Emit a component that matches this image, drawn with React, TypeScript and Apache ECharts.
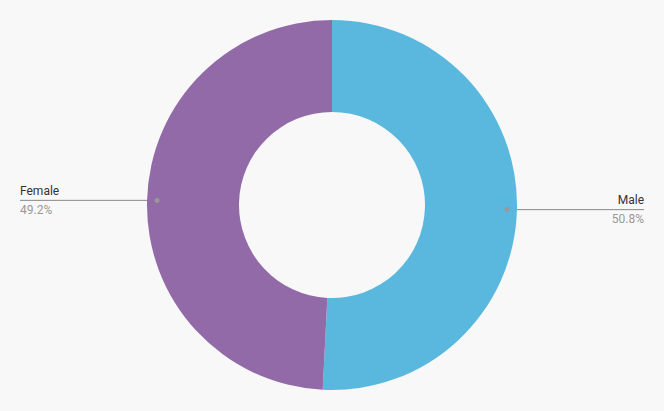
import React, { useEffect, useRef } from 'react';
import * as echarts from 'echarts';

const categories = ['Male', 'Female'];
const values = [50.8, 49.2];
const colors = ['#5ab8de', '#926aa7'];

export default function App() {
  const ref = useRef<HTMLDivElement>(null);
  useEffect(() => {
    document.body.style.margin = '0';
    const chart = echarts.init(ref.current!, null, { renderer: 'svg' });
    const W = 664;
    const cx = 332, cy = 205, rOuter = 185, rInner = 93, rLabel = 175;
    const total = values.reduce((a, b) => a + b, 0);
    let acc = 0;
    const dots = values.map((v) => {
      const mid = ((acc + v / 2) / total) * 2 * Math.PI;
      acc += v;
      return {
        type: 'circle',
        silent: true,
        z: 100,
        shape: { cx: cx + rLabel * Math.sin(mid), cy: cy - rLabel * Math.cos(mid), r: 2.5 },
        style: { fill: '#999' },
      };
    });
    const data = categories.map((c, i) => ({ name: c, value: values[i] }));
    chart.setOption({
      animation: false,
      backgroundColor: '#f8f8f8',
      color: colors,
      textStyle: { fontFamily: 'Roboto' },
      graphic: dots,
      series: [
        {
          type: 'pie',
          center: [cx, cy],
          radius: [rInner, rOuter],
          startAngle: 90,
          clockwise: true,
          silent: true,
          label: { show: false },
          labelLine: { show: false },
          data,
        },
        {
          type: 'pie',
          center: [cx, cy],
          radius: [0, rLabel],
          startAngle: 90,
          clockwise: true,
          silent: true,
          itemStyle: { color: 'rgba(0,0,0,0)' },
          emphasis: { disabled: true },
          label: {
            show: true,
            position: 'outer',
            alignTo: 'edge',
            edgeDistance: 20,
            formatter: '{name|{b}}\n{per|{d}%}',
            rich: {
              name: { fontSize: 12, color: '#333', lineHeight: 19, fontFamily: 'Roboto' },
              per: { fontSize: 12, color: '#999', lineHeight: 19, fontFamily: 'Roboto' },
            },
          },
          labelLine: {
            show: true,
            length: 10,
            length2: 0,
            lineStyle: { color: '#888', width: 1 },
          },
          labelLayout: (params: any) => {
            const isLeft = params.labelRect.x < W / 2;
            const points = params.labelLinePoints;
            points[2][0] = isLeft
              ? params.labelRect.x
              : params.labelRect.x + params.labelRect.width;
            return { labelLinePoints: points };
          },
          data,
        },
      ],
    });
    return () => chart.dispose();
  }, []);
  return <div ref={ref} style={{ width: 664, height: 411 }} />;
}
